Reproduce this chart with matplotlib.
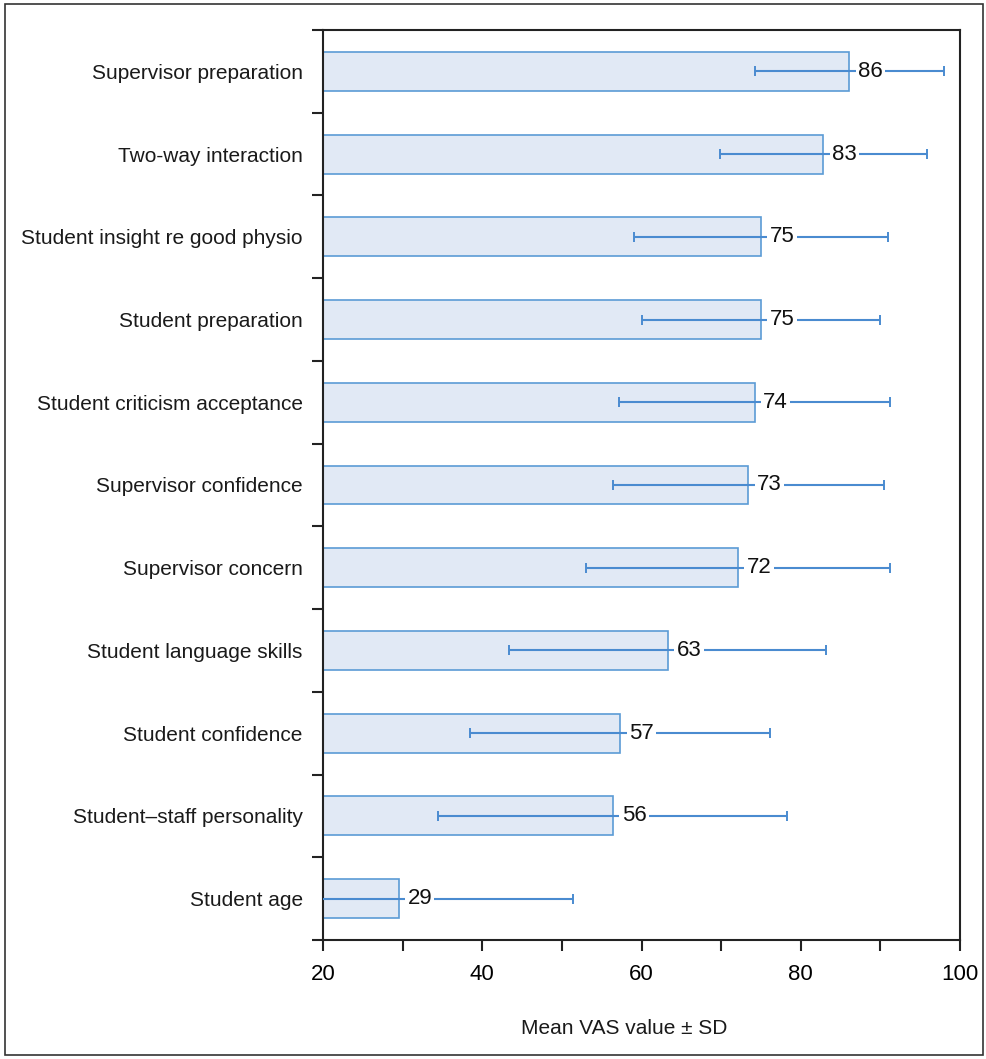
import matplotlib
matplotlib.use("Agg")
import matplotlib.pyplot as plt
import matplotlib.patches as mpatches
from matplotlib.ticker import FixedLocator, NullFormatter

categories = [
    "Supervisor preparation",
    "Two-way interaction",
    "Student insight re good physio",
    "Student preparation",
    "Student criticism acceptance",
    "Supervisor confidence",
    "Supervisor concern",
    "Student language skills",
    "Student confidence",
    "Student\u2013staff personality",
    "Student age",
]
means = [86.1, 82.8, 75.0, 75.0, 74.2, 73.4, 72.1, 63.3, 57.3, 56.4, 29.5]
sds = [11.9, 13.0, 15.9, 14.9, 17.0, 17.0, 19.1, 19.9, 18.8, 21.9, 21.9]
value_labels = ["86", "83", "75", "75", "74", "73", "72", "63", "57", "56", "29"]
x_ticks = [20, 40, 60, 80, 100]
x_minor = [30, 50, 70, 90]

plt.rcParams['font.family'] = ['Liberation Sans', 'DejaVu Sans']

fig = plt.figure(figsize=(9.86, 10.59), dpi=100)
ax = fig.add_axes([323/986, 1-940/1059, (960-323)/986, (940-30)/1059])

n = len(categories)
ypos = list(range(n))
base = 20
widths = [m - base for m in means]
ax.barh(ypos, widths, left=base, height=0.47, color="#E1E9F5",
        edgecolor="#5B9BD5", linewidth=1.2, zorder=2)
ax.errorbar(means, ypos, xerr=sds, fmt="none", ecolor="#4A8BD0",
            elinewidth=1.5, capsize=3.5, capthick=1.4, zorder=3, clip_on=True)

for y, m, lab in zip(ypos, means, value_labels):
    ax.text(m + 1.1, y, lab, ha="left", va="center", fontsize=16,
            color="#111111", zorder=4,
            bbox=dict(boxstyle="square,pad=0.1", fc="white", ec="none"))

ax.set_xlim(20, 100)
ax.set_ylim(n - 0.5, -0.5)

ax.set_xticks(x_ticks)
ax.set_xticks(x_minor, minor=True)
ax.set_xticklabels([str(t) for t in x_ticks], fontsize=16)
ax.tick_params(axis="x", which="both", direction="out", length=8, width=1.5,
               color="#222222", pad=9)

ax.set_yticks(ypos)
ax.set_yticklabels(categories, fontsize=15, color="#1a1a1a")
ax.yaxis.set_minor_locator(FixedLocator([i - 0.5 for i in range(n + 1)]))
ax.yaxis.set_minor_formatter(NullFormatter())
ax.tick_params(axis="y", which="major", length=0, pad=14.5)
ax.tick_params(axis="y", which="minor", direction="out", length=8, width=1.5,
               color="#222222")

for s in ax.spines.values():
    s.set_linewidth(1.5)
    s.set_color("#222222")

fig.text(624/986, 1-1028/1059, "Mean VAS value \u00b1 SD", fontsize=15,
         ha="center", va="center", color="#1a1a1a")

border = mpatches.Rectangle((5/986, 4/1059), 978/986, 1051/1059,
                            transform=fig.transFigure, fill=False,
                            edgecolor="#333333", linewidth=1.2)
fig.patches.append(border)

fig.savefig("out.png", dpi=100)
